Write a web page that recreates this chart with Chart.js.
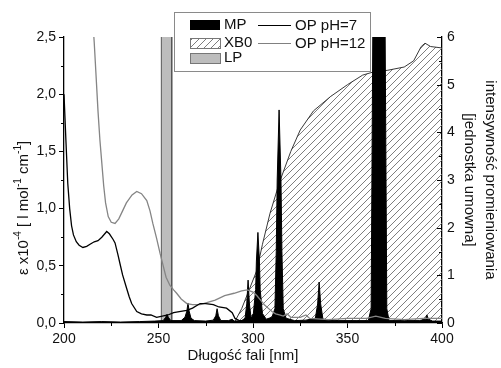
<!DOCTYPE html>
<html>
<head>
<meta charset="utf-8">
<script src="https://cdn.jsdelivr.net/npm/chart.js@4"></script>
<style>
  html, body { margin: 0; padding: 0; background: #fff; }
  #wrap { width: 501px; height: 368px; }
</style>
</head>
<body>
<div id="wrap"><canvas id="spectrumChart" width="501" height="368"></canvas></div>
<script>
// OP pH=7 absorption (left axis, eps x 1e-4)
const op7X = [200, 201, 202, 203, 204, 205, 206.5, 208, 210, 212, 214, 216, 218, 220, 222.6, 224, 226, 227, 228.5, 229.6, 231, 233, 234.5, 235.8, 238.5, 241, 243.8, 246, 249, 252, 255, 258, 261, 265, 268, 272, 275, 279, 282, 286, 289, 290.5, 293, 297, 305, 320, 340, 360, 380, 400];
const op7Y = [2.0, 1.6, 1.22, 1.0, 0.85, 0.77, 0.71, 0.68, 0.66, 0.67, 0.69, 0.71, 0.72, 0.75, 0.8, 0.78, 0.73, 0.7, 0.6, 0.52, 0.42, 0.31, 0.23, 0.17, 0.1, 0.08, 0.07, 0.07, 0.05, 0.06, 0.07, 0.09, 0.1, 0.11, 0.13, 0.17, 0.17, 0.16, 0.14, 0.13, 0.09, 0.04, 0.02, 0.02, 0.01, 0.01, 0.01, 0.01, 0.01, 0.01];

// OP pH=12 absorption (left axis)
const op12X = [214, 215, 216, 217, 218, 219, 220, 221, 222, 223.4, 225, 227, 229, 231, 233, 236, 238.5, 241, 243.8, 245.5, 247, 249, 250.8, 252.5, 254, 256, 258, 259.6, 262, 265, 268, 272, 276, 280, 285, 290, 294, 297, 300, 302, 304, 306, 308, 310, 312, 314, 316, 318, 320, 325, 328, 330, 340, 350, 360, 365, 370, 380, 390, 400];
const op12Y = [3.0, 2.7, 2.45, 2.15, 1.85, 1.6, 1.4, 1.2, 1.05, 0.93, 0.88, 0.87, 0.91, 0.98, 1.05, 1.12, 1.15, 1.13, 1.07, 0.98, 0.87, 0.74, 0.61, 0.5, 0.4, 0.33, 0.29, 0.26, 0.21, 0.17, 0.16, 0.16, 0.18, 0.2, 0.24, 0.26, 0.28, 0.29, 0.27, 0.24, 0.2, 0.16, 0.13, 0.1, 0.08, 0.07, 0.06, 0.08, 0.05, 0.05, 0.07, 0.04, 0.03, 0.04, 0.04, 0.06, 0.04, 0.03, 0.04, 0.04];

// MP lamp emission (right axis, arbitrary units)
const mpX = [200, 210, 220, 230, 240, 248, 252.5, 253.8, 254.5, 255.2, 256.5, 262, 264, 265, 265.6, 266.2, 267.2, 269, 275, 279, 280.3, 281, 281.7, 283, 287, 289, 290, 294, 295.8, 296.7, 297.4, 298.1, 299, 300.2, 301.4, 301.8, 302.6, 303.4, 303.8, 305, 307, 310, 311.6, 312.3, 312.8, 313.8, 314.8, 315.3, 316, 317.5, 322, 328, 333, 334.2, 335, 335.8, 337, 345, 355, 361, 362.5, 363.5, 369.8, 370.8, 372, 380, 388, 391.2, 392, 392.8, 395, 400];
const mpY = [0.03, 0.02, 0.03, 0.02, 0.03, 0.04, 0.05, 0.12, 0.18, 0.12, 0.05, 0.05, 0.12, 0.25, 0.42, 0.25, 0.1, 0.05, 0.04, 0.06, 0.15, 0.3, 0.15, 0.05, 0.05, 0.08, 0.04, 0.05, 0.1, 0.4, 0.9, 0.4, 0.1, 0.2, 0.7, 1.3, 1.9, 1.3, 0.7, 0.2, 0.08, 0.12, 0.3, 1.5, 3.0, 4.47, 3.0, 1.5, 0.3, 0.1, 0.05, 0.06, 0.1, 0.4, 0.86, 0.4, 0.08, 0.05, 0.05, 0.05, 0.3, 6.8, 6.8, 0.3, 0.05, 0.05, 0.05, 0.08, 0.17, 0.08, 0.04, 0.04];

// XB0 lamp emission (right axis)
const xbX = [290, 294, 298, 302, 305, 309, 314, 320, 325, 332, 341, 350, 358, 364, 371, 380, 385, 389, 391, 394, 400];
const xbY = [0, 0.3, 0.7, 1.1, 1.65, 2.3, 2.95, 3.6, 4.05, 4.45, 4.75, 5.0, 5.2, 5.27, 5.3, 5.37, 5.5, 5.8, 5.87, 5.8, 5.77];

// LP lamp line (right axis)
const lpX = [251.5, 251.5, 257, 257];
const lpY = [0, 6.8, 6.8, 0];

const leftTicks = [0, 0.5, 1, 1.5, 2, 2.5];
const rightTicks = [0, 1, 2, 3, 4, 5, 6];

const toPoints = (xs, ys) => xs.map((x, i) => ({ x: x, y: ys[i] }));

const FONT = '"Liberation Sans", Arial, sans-serif';

function makeHatch(ctx) {
    const c = document.createElement('canvas');
    c.width = 7;
    c.height = 7;
    const g = c.getContext('2d');
    g.strokeStyle = '#6f6f6f';
    g.lineWidth = 0.9;
    g.beginPath();
    g.moveTo(0, 7); g.lineTo(7, 0);
    g.moveTo(-1, 1); g.lineTo(1, -1);
    g.moveTo(6, 8); g.lineTo(8, 6);
    g.stroke();
    return ctx.createPattern(c, 'repeat');
}

// minor ticks, inward right-axis ticks, axis titles and the boxed legend
const decorations = {
    id: 'decorations',
    afterDraw(chart) {
        const ctx = chart.ctx;
        const xs = chart.scales.x, ys = chart.scales.y, y2 = chart.scales.y2;
        const area = chart.chartArea;
        ctx.save();
        ctx.strokeStyle = '#000';
        ctx.lineWidth = 1;
        ctx.beginPath();
        [225, 275, 325, 375].forEach(v => {
            const px = Math.round(xs.getPixelForValue(v)) + 0.5;
            ctx.moveTo(px, area.bottom); ctx.lineTo(px, area.bottom + 3);
        });
        [0.25, 0.75, 1.25, 1.75, 2.25].forEach(v => {
            const py = Math.round(ys.getPixelForValue(v)) + 0.5;
            ctx.moveTo(area.left, py); ctx.lineTo(area.left - 3, py);
        });
        rightTicks.forEach(v => {
            const py = Math.round(y2.getPixelForValue(v)) + 0.5;
            ctx.moveTo(area.right, py); ctx.lineTo(area.right - 5, py);
            if (v < 6) {
                const pm = Math.round(y2.getPixelForValue(v + 0.5)) + 0.5;
                ctx.moveTo(area.right, pm); ctx.lineTo(area.right - 3, pm);
            }
        });
        ctx.stroke();

        // x title
        ctx.fillStyle = '#111';
        ctx.font = '15px ' + FONT;
        ctx.textAlign = 'center';
        ctx.textBaseline = 'middle';
        ctx.fillText('Długość fali [nm]', 243, 356);

        // left title with superscripts
        const parts = [
            ['ε x10', false], ['-4', true], [' [ l mol', false], ['-1', true],
            [' cm', false], ['-1', true], [']', false]
        ];
        ctx.save();
        ctx.translate(24, 208);
        ctx.rotate(-Math.PI / 2);
        ctx.textAlign = 'left';
        let total = 0;
        parts.forEach(p => {
            ctx.font = (p[1] ? '10px ' : '15px ') + FONT;
            total += ctx.measureText(p[0]).width;
        });
        let cx = -total / 2;
        parts.forEach(p => {
            ctx.font = (p[1] ? '10px ' : '15px ') + FONT;
            ctx.fillText(p[0], cx, p[1] ? -6 : 0);
            cx += ctx.measureText(p[0]).width;
        });
        ctx.restore();

        // right title, two lines
        ctx.save();
        ctx.font = '15px ' + FONT;
        ctx.textAlign = 'center';
        ctx.translate(490, 180);
        ctx.rotate(Math.PI / 2);
        ctx.fillText('intensywność promieniowania', 0, 0);
        ctx.fillText('[jednostka umowna]', 0, 21);
        ctx.restore();

        // legend
        ctx.fillStyle = '#fff';
        ctx.fillRect(174, 12, 196, 59);
        ctx.strokeStyle = '#8a8a8a';
        ctx.lineWidth = 1;
        ctx.strokeRect(174.5, 12.5, 196, 59);

        ctx.fillStyle = '#000';
        ctx.fillRect(190, 20, 30, 10);
        ctx.fillStyle = chart.data.datasets[4].backgroundColor;
        ctx.fillRect(190, 38, 30, 10);
        ctx.strokeStyle = '#777';
        ctx.strokeRect(190.5, 38.5, 30, 10);
        ctx.fillStyle = '#bdbdbd';
        ctx.fillRect(190, 53, 30, 10);
        ctx.strokeRect(190.5, 53.5, 30, 10);

        ctx.lineWidth = 1.2;
        ctx.strokeStyle = '#000';
        ctx.beginPath(); ctx.moveTo(258, 25.5); ctx.lineTo(291, 25.5); ctx.stroke();
        ctx.strokeStyle = '#808080';
        ctx.beginPath(); ctx.moveTo(258, 43.5); ctx.lineTo(291, 43.5); ctx.stroke();

        ctx.fillStyle = '#111';
        ctx.font = '15px ' + FONT;
        ctx.textAlign = 'left';
        ctx.textBaseline = 'middle';
        ctx.fillText('MP', 224, 25);
        ctx.fillText('XB0', 224, 43);
        ctx.fillText('LP', 224, 58);
        ctx.fillText('OP pH=7', 295, 26);
        ctx.fillText('OP pH=12', 295, 44);
        ctx.restore();
    }
};

const canvas = document.getElementById('spectrumChart');
const ctx = canvas.getContext('2d');
const hatch = makeHatch(ctx);

const tickFont = { family: FONT, size: 14 };

new Chart(ctx, {
    type: 'line',
    data: {
        datasets: [
            {
                label: 'OP pH=7', data: toPoints(op7X, op7Y), yAxisID: 'y',
                borderColor: '#000', borderWidth: 1.3, pointRadius: 0, fill: false, order: 0
            },
            {
                label: 'OP pH=12', data: toPoints(op12X, op12Y), yAxisID: 'y',
                borderColor: '#858585', borderWidth: 1.3, pointRadius: 0, fill: false, order: 1
            },
            {
                label: 'MP', data: toPoints(mpX, mpY), yAxisID: 'y2',
                borderColor: '#000', backgroundColor: '#000', borderWidth: 1,
                pointRadius: 0, fill: 'origin', order: 2
            },
            {
                label: 'LP', data: toPoints(lpX, lpY), yAxisID: 'y2',
                borderColor: '#555', backgroundColor: '#bdbdbd', borderWidth: 1,
                pointRadius: 0, fill: 'origin', order: 3
            },
            {
                label: 'XB0', data: toPoints(xbX, xbY), yAxisID: 'y2',
                borderColor: '#222', backgroundColor: hatch, borderWidth: 0.9,
                pointRadius: 0, fill: 'origin', order: 4
            }
        ]
    },
    options: {
        responsive: false,
        animation: false,
        devicePixelRatio: 1,
        layout: { padding: { top: 37, left: 0, right: 0, bottom: 0 } },
        plugins: {
            legend: { display: false },
            tooltip: { enabled: false }
        },
        scales: {
            x: {
                type: 'linear', min: 200, max: 400,
                afterFit: s => { s.height = 45; },
                ticks: { stepSize: 50, color: '#111', font: tickFont, padding: 3, maxRotation: 0 },
                grid: { drawOnChartArea: false, tickLength: 5, color: '#000', tickWidth: 1 },
                border: { color: '#000', width: 1.3 }
            },
            y: {
                position: 'left', min: 0, max: 2.5,
                afterFit: s => { s.width = 64; },
                afterBuildTicks: s => { s.ticks = leftTicks.map(v => ({ value: v })); },
                ticks: {
                    color: '#111', font: tickFont, padding: 3,
                    callback: v => v.toFixed(1).replace('.', ',')
                },
                grid: { drawOnChartArea: false, tickLength: 5, color: '#000' },
                border: { color: '#000', width: 1.3 }
            },
            y2: {
                position: 'right', min: 0, max: 6,
                afterFit: s => { s.width = 59; },
                afterBuildTicks: s => { s.ticks = rightTicks.map(v => ({ value: v })); },
                ticks: { color: '#111', font: tickFont, padding: 5 },
                grid: { drawOnChartArea: false, drawTicks: false },
                border: { color: '#000', width: 1.3 }
            }
        }
    },
    plugins: [decorations]
});
</script>
</body>
</html>
